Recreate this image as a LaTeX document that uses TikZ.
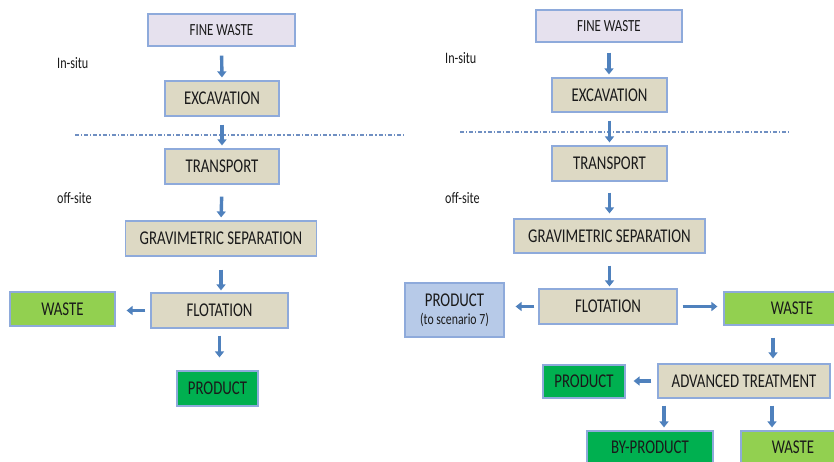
\documentclass[tikz,border=0pt]{standalone}
\usepackage{fontspec}
\setmainfont{Carlito}[FakeStretch=0.76]
\usetikzlibrary{arrows.meta,calc}
\definecolor{tanfill}{HTML}{DDD9C4}
\definecolor{lavfill}{HTML}{E6E1EE}
\definecolor{boxline}{HTML}{8EAADB}
\definecolor{lgreen}{HTML}{92D050}
\definecolor{dgreen}{HTML}{00B050}
\definecolor{lblue}{HTML}{B7CAE8}
\definecolor{arrowcol}{HTML}{4F81BD}
\definecolor{sepcol}{HTML}{6F8FC2}
\definecolor{txt}{HTML}{1A1A1A}
\begin{document}
\begin{tikzpicture}[x=1pt,y=-1pt,
  box/.style={draw=boxline, line width=1.2pt, inner sep=0pt, text=txt,
    font=\fontsize{19.5}{21}\selectfont, minimum height=35pt},
  tanbox/.style={box, fill=tanfill},
  lavbox/.style={box, fill=lavfill, font=\fontsize{17}{18}\selectfont, minimum height=32pt},
  lgbox/.style={box, fill=lgreen},
  dgbox/.style={box, fill=dgreen},
  lbbox/.style={box, fill=lblue},
  lbl/.style={anchor=west, inner sep=0pt, text=txt, font=\fontsize{16}{17}\selectfont},
  plain/.style={inner sep=0pt, text=txt, font=\fontsize{19.5}{21}\selectfont},
  arr/.style={draw=arrowcol, line width=3.4pt, -{Triangle[length=6pt,width=9pt]}},
  sep/.style={draw=sepcol, line width=1.1pt, dash pattern=on 4pt off 2pt on 1.2pt off 2pt}
]
\useasboundingbox (0,0) rectangle (834,461);
\clip (0,0) rectangle (834,461);
\fill[white] (0,0) rectangle (834,461);

% ---------- left scheme ----------
\coordinate (sepL1) at (75,135);
\coordinate (sepL2) at (405,135);
\draw[sep] (sepL1) -- (sepL2);

\node[lavbox, minimum width=147pt] (fw1) at (221.5,30) {FINE WASTE};
\node[tanbox, minimum width=114pt] (ex1) at (222,98.5) {EXCAVATION};
\node[tanbox, minimum width=114pt] (tr1) at (222,166.5) {TRANSPORT};
\node[tanbox, minimum width=191pt] (gs1) at (221,238.5) {GRAVIMETRIC SEPARATION};
\node[tanbox, minimum width=137pt] (fl1) at (219.5,310.5) {FLOTATION};
\node[lgbox, minimum width=105pt, minimum height=34pt] (ws1) at (62.5,309) {WASTE};
\node[dgbox, minimum width=81pt] (pr1) at (217.5,388.5) {PRODUCT};

\node[lbl] (is1) at (57,63) {In-situ};
\node[lbl] (os1) at (57,198) {off-site};

\draw[arr, shorten <=9pt, shorten >=3pt] (fw1.south) -- (ex1.north);
\draw[arr, shorten <=8pt, shorten >=3pt] (ex1.south) -- (tr1.north);
\draw[arr, shorten <=12pt, shorten >=3pt] (tr1.south) -- (gs1.north);
\draw[arr, shorten <=13pt, shorten >=2pt] (gs1.south) -- (gs1.south |- fl1.north);
\draw[arr, shorten <=7pt, shorten >=13pt] (fl1.south) -- (fl1.south |- pr1.north);
\draw[arr, shorten <=5pt, shorten >=11pt] (fl1.west) -- (fl1.west -| ws1.east);

% ---------- right scheme ----------
\coordinate (sepR1) at (460,132);
\coordinate (sepR2) at (790,132);
\draw[sep] (sepR1) -- (sepR2);

\node[lavbox, minimum width=146pt] (fw2) at (609,26) {FINE WASTE};
\node[tanbox, minimum width=115pt, minimum height=34pt] (ex2) at (609.5,95) {EXCAVATION};
\node[tanbox, minimum width=115pt] (tr2) at (609.5,163.5) {TRANSPORT};
\node[tanbox, minimum width=191pt, minimum height=34pt] (gs2) at (609.5,236) {GRAVIMETRIC SEPARATION};
\node[tanbox, minimum width=138pt] (fl2) at (608,306.5) {FLOTATION};
\node[lbbox, minimum width=99pt, minimum height=54pt, align=center] (pp2) at (454.5,310)
  {PRODUCT\\[-3pt]{\fontsize{15.5}{17}\selectfont (to scenario 7)}};
\node[lgbox, minimum width=136pt, minimum height=33pt] (ws2) at (792,308.5) {WASTE};
\node[tanbox, minimum width=172pt, minimum height=34pt] (at2) at (744,381) {ADVANCED TREATMENT};
\node[dgbox, minimum width=82pt, minimum height=33pt] (pr2) at (584,381.5) {PRODUCT};
\node[dgbox, minimum width=126pt, minimum height=70pt] (bp2) at (650,466) {};
\node[lgbox, minimum width=104pt, minimum height=70pt] (ws3) at (793,466) {};
\node[plain] (bpt) at (650,447) {BY-PRODUCT};
\node[plain] (wst) at (793,447) {WASTE};

\node[lbl] (is2) at (445,58) {In-situ};
\node[lbl] (os2) at (445,198) {off-site};

\draw[arr, shorten <=10pt, shorten >=3pt] (fw2.south) -- (fw2.south |- ex2.north);
\draw[arr, shorten <=8pt, shorten >=3pt] (ex2.south) -- (tr2.north);
\draw[arr, shorten <=11pt, shorten >=5pt] (tr2.south) -- (tr2.south |- gs2.north);
\draw[arr, shorten <=12pt, shorten >=2pt] (gs2.south) -- (gs2.south |- fl2.north);
\draw[arr, shorten <=4pt, shorten >=11pt] (fl2.west) -- (fl2.west -| pp2.east);
\draw[arr, shorten <=5pt, shorten >=6pt] (fl2.east) -- (fl2.east -| ws2.west);
\draw[arr, shorten <=12pt, shorten >=5pt] ([xshift=-19pt]ws2.south) -- ([xshift=-19pt]ws2.south |- at2.north);
\draw[arr, shorten <=6pt, shorten >=8pt] (at2.west) -- (at2.west -| pr2.east);
\draw[arr, shorten <=7pt, shorten >=3pt] ([xshift=-80pt]at2.south) -- ([xshift=-80pt]at2.south |- bp2.north);
\draw[arr, shorten <=7pt, shorten >=3pt] ([xshift=28pt]at2.south) -- ([xshift=28pt]at2.south |- ws3.north);
\end{tikzpicture}
\end{document}
